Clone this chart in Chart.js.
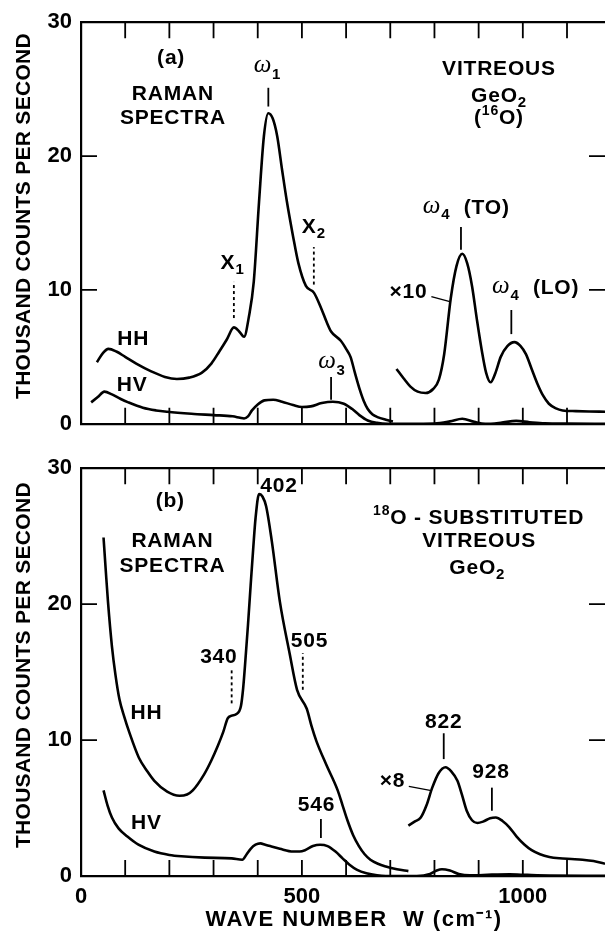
<!DOCTYPE html>
<html>
<head>
<meta charset="utf-8">
<script src="https://cdn.jsdelivr.net/npm/chart.js@4.4.0/dist/chart.umd.min.js"></script>
<style>
html, body { margin: 0; padding: 0; background: #fff; }
#wrap { width: 605px; height: 932px; position: relative; }
canvas { position: absolute; left: 0; }
#chartA { top: 0; }
#chartB { top: 446px; }
</style>
</head>
<body>
<div id="wrap">
  <canvas id="chartA" width="605" height="446"></canvas>
  <canvas id="chartB" width="605" height="486"></canvas>
</div>
<script>
// wave number (cm-1) / thousand counts per second

// (a) vitreous GeO2 (16O)
const hhA_w = [36, 50, 62, 80, 100, 125, 160, 190, 217, 245, 273, 295, 313, 330, 346, 358, 369, 380, 391, 403, 414, 424, 434, 444, 455, 466, 480, 492, 509, 527, 544, 556, 566, 588, 600, 610, 620, 631, 640, 649, 660, 671, 690, 706];
const hhA_c = [4.6, 5.3, 5.6, 5.4, 5.0, 4.5, 3.9, 3.5, 3.35, 3.45, 3.8, 4.5, 5.4, 6.3, 7.2, 6.9, 6.5, 8.0, 10.6, 16.6, 21.5, 23.2, 22.8, 21.5, 19.0, 16.6, 14.0, 12.0, 10.3, 9.8, 8.6, 7.6, 6.9, 6.2, 5.6, 5.0, 3.8, 2.55, 1.7, 1.1, 0.7, 0.5, 0.3, 0.17];
// x10 part
const hhA10_w = [714, 730, 745, 762, 780, 797, 810, 822, 837, 850, 863, 874, 885, 896, 907, 917, 927, 938, 950, 965, 981, 995, 1007, 1020, 1033, 1046, 1059, 1075, 1090, 1120, 1150, 1186];
const hhA10_c = [4.1, 3.4, 2.8, 2.4, 2.3, 2.6, 3.3, 5.2, 9.4, 11.8, 12.7, 12.0, 10.3, 7.8, 5.5, 3.8, 3.1, 3.8, 5.0, 5.8, 6.1, 5.8, 5.2, 4.1, 3.0, 2.1, 1.5, 1.15, 1.0, 0.95, 0.92, 0.9];
const hvA_w = [23, 38, 53, 70, 90, 107, 140, 170, 195, 250, 300, 343, 360, 369, 378, 387, 400, 415, 435, 455, 480, 500, 520, 545, 570, 595, 614, 630, 649, 670, 693, 740, 800, 835, 863, 890, 915, 950, 985, 1015, 1050, 1100, 1186];
const hvA_c = [1.6, 2.0, 2.4, 2.2, 1.85, 1.6, 1.2, 1.0, 0.9, 0.75, 0.65, 0.56, 0.45, 0.4, 0.55, 1.0, 1.45, 1.75, 1.8, 1.65, 1.4, 1.25, 1.3, 1.55, 1.65, 1.5, 1.1, 0.65, 0.25, 0.07, 0.0, 0.0, 0.02, 0.18, 0.38, 0.15, 0.0, 0.08, 0.22, 0.12, 0.03, 0.01, 0.0];

// (b) 18O-substituted vitreous GeO2
const hhB_w = [51, 56, 61, 70, 78, 87, 98, 109, 131, 150, 166, 195, 223, 240, 253, 279, 295, 310, 322, 332, 341, 351, 362, 367, 371, 378, 384, 390, 395, 403, 411, 419, 432, 450, 472, 489, 511, 522, 533, 555, 581, 592, 603, 616, 629, 642, 655, 672, 690, 715, 741];
const hhB_c = [24.9, 22.5, 20.2, 16.9, 14.8, 13.0, 11.7, 10.6, 8.7, 7.7, 7.0, 6.2, 5.9, 6.0, 6.3, 7.5, 8.5, 9.6, 10.6, 11.6, 11.8, 11.9, 12.5, 13.8, 15.4, 18.5, 21.4, 24.2, 26.3, 28.1, 27.9, 27.2, 24.6, 20.2, 16.4, 13.7, 12.3, 11.0, 9.9, 8.2, 6.3, 5.2, 4.1, 3.0, 2.2, 1.6, 1.2, 0.9, 0.7, 0.5, 0.36];
// x8 part
const hhB8_w = [741, 755, 769, 782, 795, 810, 825, 838, 852, 862, 873, 885, 897, 910, 926, 939, 954, 969, 986, 1004, 1020, 1039, 1060, 1083, 1110, 1135, 1160, 1186];
const hhB8_c = [3.7, 4.0, 4.3, 5.2, 6.5, 7.6, 8.0, 7.7, 7.0, 6.0, 4.8, 4.1, 3.9, 4.0, 4.25, 4.3, 4.05, 3.6, 2.9, 2.3, 1.9, 1.6, 1.4, 1.3, 1.25, 1.2, 1.1, 0.9];
const hvB_w = [51, 60, 70, 85, 105, 130, 166, 200, 227, 280, 341, 365, 375, 384, 395, 406, 417, 428, 450, 480, 495, 507, 525, 541, 558, 576, 592, 607, 625, 646, 670, 690, 760, 790, 805, 817, 835, 855, 880, 930, 970, 1010, 1060, 1186];
const hvB_c = [6.3, 5.2, 4.3, 3.5, 2.9, 2.3, 1.8, 1.55, 1.45, 1.35, 1.3, 1.2, 1.6, 2.0, 2.3, 2.4, 2.3, 2.2, 2.0, 1.8, 1.8, 1.9, 2.2, 2.3, 2.2, 1.8, 1.3, 0.85, 0.45, 0.2, 0.05, 0.0, 0.0, 0.15, 0.4, 0.5, 0.4, 0.15, 0.05, 0.1, 0.12, 0.08, 0.04, 0.02];

// axes
const xLabelTicks = [0, 500, 1000];
const yLabelTicks = [0, 10, 20, 30];
const xMinor = [100, 200, 300, 400, 500, 600, 700, 800, 900, 1000, 1100];
const yMinor = [10, 20];
const X_MAX = 1186;
const yTitle = 'THOUSAND COUNTS PER SECOND';
const xTitle = 'WAVE NUMBER  W (cm⁻¹)';

const FAM = '"Liberation Sans", Arial, sans-serif';
const TXT = 'bold 21px ' + FAM;
const SUB = 'bold 15px ' + FAM;
const SUP = 'bold 14px ' + FAM;
const GRK = 'italic 25px "Liberation Serif", "DejaVu Serif", serif';

// annotations: [w, counts, parts]
const notesA = [
  [204, 27.3, [['(a)', 'n']]],
  [208, 24.6, [['RAMAN', 'n']]],
  [208, 22.85, [['SPECTRA', 'n']]],
  [422, 26.6, [['ω', 'g'], ['1', 'sub']]],
  [946, 26.5, [['VITREOUS', 'n']]],
  [946, 24.5, [['GeO', 'n'], ['2', 'sub']]],
  [946, 22.8, [['(', 'n'], ['16', 'sup'], ['O)', 'n']]],
  [343, 12.0, [['X', 'n'], ['1', 'sub']]],
  [527, 14.7, [['X', 'n'], ['2', 'sub']]],
  [872, 16.1, [['ω', 'g'], ['4', 'sub'], ['  (TO)', 'n']]],
  [1029, 10.1, [['ω', 'g'], ['4', 'sub'], ['  (LO)', 'n']]],
  [741, 9.8, [['×10', 'n']]],
  [118, 6.3, [['HH', 'n']]],
  [116, 2.9, [['HV', 'n']]],
  [568, 4.5, [['ω', 'g'], ['3', 'sub']]]
];
// marker lines: [w, from, to, dashed]
const marksA = [
  [424, 23.7, 25.1, false],
  [346, 7.9, 10.6, true],
  [527, 10.4, 13.2, true],
  [860, 13.0, 14.7, false],
  [974, 6.7, 8.5, false],
  [566, 1.8, 3.5, false]
];
const leaderA = [793, 9.5, 837, 9.1];

const notesB = [
  [202, 27.6, [['(b)', 'n']]],
  [448, 28.7, [['402', 'n']]],
  [207, 24.6, [['RAMAN', 'n']]],
  [207, 22.8, [['SPECTRA', 'n']]],
  [900, 26.3, [['18', 'sup'], ['O - SUBSTITUTED', 'n']]],
  [901, 24.6, [['VITREOUS', 'n']]],
  [897, 22.65, [['GeO', 'n'], ['2', 'sub']]],
  [312, 16.1, [['340', 'n']]],
  [517, 17.3, [['505', 'n']]],
  [148, 12.0, [['HH', 'n']]],
  [148, 3.86, [['HV', 'n']]],
  [533, 5.2, [['546', 'n']]],
  [821, 11.3, [['822', 'n']]],
  [928, 7.6, [['928', 'n']]],
  [705, 7.0, [['×8', 'n']]]
];
const marksB = [
  [341, 12.7, 15.2, true],
  [502, 13.7, 16.4, true],
  [543, 2.8, 4.2, false],
  [821, 8.6, 10.5, false],
  [930, 4.8, 6.5, false]
];
const leaderB = [742, 6.6, 790, 6.3];

const pts = (w, c) => w.map((v, i) => ({ x: v, y: c[i] }));

function drawRich(ctx, parts, x, y) {
  const fonts = { n: TXT, sub: SUB, sup: SUP, g: GRK };
  const dy = { n: 0, sub: 7, sup: -7, g: -2 };
  let w = 0;
  parts.forEach(p => { ctx.font = fonts[p[1]]; w += ctx.measureText(p[0]).width; });
  let cx = x - w / 2;
  ctx.textAlign = 'left';
  ctx.textBaseline = 'middle';
  parts.forEach(p => {
    ctx.font = fonts[p[1]];
    ctx.fillText(p[0], cx, y + dy[p[1]]);
    cx += ctx.measureText(p[0]).width;
  });
}

const decor = {
  id: 'decor',
  afterDraw(chart, args, opts) {
    const { ctx, chartArea: a, scales: { x, y } } = chart;
    ctx.save();
    ctx.strokeStyle = '#000';
    ctx.fillStyle = '#000';
    // frame top
    ctx.lineWidth = 2.2;
    ctx.beginPath();
    ctx.moveTo(a.left, a.top);
    ctx.lineTo(a.right, a.top);
    ctx.stroke();
    // inward ticks
    ctx.lineWidth = 1.8;
    ctx.beginPath();
    xMinor.forEach(v => {
      const px = x.getPixelForValue(v);
      ctx.moveTo(px, a.bottom); ctx.lineTo(px, a.bottom - 16);
      ctx.moveTo(px, a.top); ctx.lineTo(px, a.top + 16);
    });
    yMinor.forEach(v => {
      const py = y.getPixelForValue(v);
      ctx.moveTo(a.left, py); ctx.lineTo(a.left + 16, py);
      ctx.moveTo(a.right, py); ctx.lineTo(a.right - 16, py);
    });
    ctx.stroke();
    // marker lines
    opts.marks.forEach(m => {
      const px = x.getPixelForValue(m[0]);
      ctx.setLineDash(m[3] ? [3, 3] : []);
      ctx.lineWidth = 1.8;
      ctx.beginPath();
      ctx.moveTo(px, y.getPixelForValue(m[1]));
      ctx.lineTo(px, y.getPixelForValue(m[2]));
      ctx.stroke();
    });
    ctx.setLineDash([]);
    const l = opts.leader;
    ctx.lineWidth = 1.3;
    ctx.beginPath();
    ctx.moveTo(x.getPixelForValue(l[0]), y.getPixelForValue(l[1]));
    ctx.lineTo(x.getPixelForValue(l[2]), y.getPixelForValue(l[3]));
    ctx.stroke();
    // text
    ctx.letterSpacing = '0.8px';
    opts.notes.forEach(n => drawRich(ctx, n[2], x.getPixelForValue(n[0]), y.getPixelForValue(n[1])));
    // axis titles
    ctx.textAlign = 'center';
    ctx.textBaseline = 'middle';
    ctx.font = 'bold 21px ' + FAM;
    ctx.letterSpacing = '0.3px';
    ctx.save();
    ctx.translate(24, (a.top + a.bottom) / 2 - 7);
    ctx.rotate(-Math.PI / 2);
    ctx.fillText(yTitle, 0, 0);
    ctx.restore();
    if (opts.xTitle) {
      ctx.font = 'bold 22px ' + FAM;
      ctx.letterSpacing = '1.5px';
      ctx.fillText(xTitle, (a.left + a.right) / 2 + 11, a.bottom + 44);
    }
    ctx.restore();
  }
};

function curve(data) {
  return {
    data: data,
    showLine: true,
    borderColor: '#000',
    borderWidth: 2.6,
    pointRadius: 0,
    fill: false,
    cubicInterpolationMode: 'monotone'
  };
}

function makeChart(el, datasets, notes, marks, leader, bottomPanel) {
  return new Chart(el, {
    type: 'scatter',
    data: { datasets: datasets },
    options: {
      responsive: false,
      animation: false,
      layout: { padding: { top: bottomPanel ? 16 : 17, right: 0, left: 0, bottom: 0 } },
      plugins: {
        legend: { display: false },
        tooltip: { enabled: false },
        decor: { notes: notes, marks: marks, leader: leader, xTitle: bottomPanel }
      },
      scales: {
        x: {
          type: 'linear',
          min: 0,
          max: X_MAX,
          afterBuildTicks: s => { s.ticks = xLabelTicks.map(v => ({ value: v })); },
          afterFit: s => { s.height = bottomPanel ? 56 : 16; },
          grid: { display: false, drawTicks: false },
          border: { display: true, color: '#000', width: 2.2 },
          ticks: {
            display: bottomPanel,
            color: '#000',
            padding: 8,
            maxRotation: 0,
            autoSkip: false,
            callback: v => String(v),
            font: { family: FAM, size: 22, weight: 'bold' }
          }
        },
        y: {
          min: 0,
          max: 30,
          afterBuildTicks: s => { s.ticks = yLabelTicks.map(v => ({ value: v })); },
          afterFit: s => { s.width = 81; },
          grid: { display: false, drawTicks: false },
          border: { display: true, color: '#000', width: 2.2 },
          ticks: {
            color: '#000',
            padding: 9,
            callback: v => String(v),
            font: { family: FAM, size: 22, weight: 'bold' }
          }
        }
      }
    },
    plugins: [decor]
  });
}

makeChart(document.getElementById('chartA'),
  [curve(pts(hhA_w, hhA_c)), curve(pts(hhA10_w, hhA10_c)), curve(pts(hvA_w, hvA_c))],
  notesA, marksA, leaderA, false);

makeChart(document.getElementById('chartB'),
  [curve(pts(hhB_w, hhB_c)), curve(pts(hhB8_w, hhB8_c)), curve(pts(hvB_w, hvB_c))],
  notesB, marksB, leaderB, true);
</script>
</body>
</html>
